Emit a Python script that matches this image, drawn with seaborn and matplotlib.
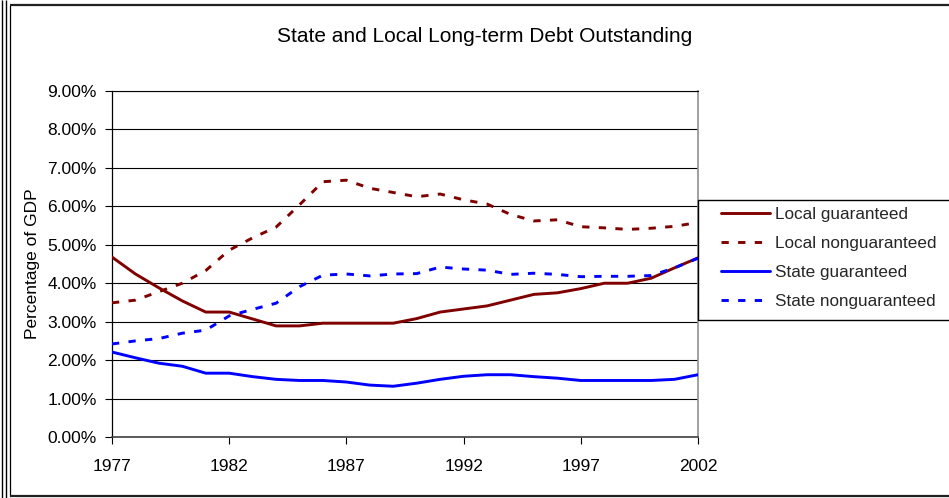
import matplotlib
matplotlib.use("Agg")
import matplotlib.pyplot as plt
from matplotlib.lines import Line2D
from matplotlib.patches import Rectangle
from matplotlib.ticker import FuncFormatter
import seaborn as sns
import pandas as pd

years = list(range(1977, 2003))
local_guaranteed = [4.68, 4.24, 3.88, 3.54, 3.25, 3.25, 3.07, 2.89, 2.89, 2.96, 2.96, 2.96, 2.96,
                    3.08, 3.25, 3.33, 3.41, 3.56, 3.71, 3.75, 3.86, 4.00, 4.00, 4.13, 4.40, 4.66]
local_nonguaranteed = [3.49, 3.56, 3.78, 4.00, 4.33, 4.86, 5.18, 5.46, 6.04, 6.64, 6.68, 6.47, 6.36,
                       6.25, 6.32, 6.17, 6.06, 5.79, 5.62, 5.65, 5.47, 5.44, 5.40, 5.43, 5.48, 5.58]
state_guaranteed = [2.21, 2.06, 1.92, 1.84, 1.66, 1.66, 1.57, 1.50, 1.47, 1.47, 1.43, 1.35, 1.32,
                    1.40, 1.50, 1.58, 1.62, 1.62, 1.57, 1.53, 1.47, 1.47, 1.47, 1.47, 1.50, 1.62]
state_nonguaranteed = [2.42, 2.50, 2.56, 2.70, 2.78, 3.15, 3.32, 3.48, 3.91, 4.21, 4.24, 4.19, 4.24,
                       4.25, 4.42, 4.37, 4.34, 4.23, 4.26, 4.23, 4.17, 4.18, 4.18, 4.20, 4.40, 4.65]
series_names = ["Local guaranteed", "Local nonguaranteed", "State guaranteed", "State nonguaranteed"]
y_ticks = [0, 1, 2, 3, 4, 5, 6, 7, 8, 9]
x_ticks = [1977, 1982, 1987, 1992, 1997, 2002]

rows = []
for name, vals in zip(series_names, [local_guaranteed, local_nonguaranteed, state_guaranteed, state_nonguaranteed]):
    for y, v in zip(years, vals):
        rows.append({"Year": y, "Value": v, "Series": name})
df = pd.DataFrame(rows)

sns.set_theme(style="white")
plt.rcParams['font.family'] = ['Liberation Sans', 'DejaVu Sans']

W, H = 949, 498
fig = plt.figure(figsize=(W / 100, H / 100), dpi=100)
ax = fig.add_axes([112 / W, 1 - 437 / H, (698 - 112) / W, (437 - 91) / H])

LW = 2.1
DASH = (2.5, 3.2)
palette = {"Local guaranteed": "#800000", "Local nonguaranteed": "#800000",
           "State guaranteed": "#0000FF", "State nonguaranteed": "#0000FF"}
dashes = {"Local guaranteed": "", "Local nonguaranteed": DASH,
          "State guaranteed": "", "State nonguaranteed": DASH}
sns.lineplot(data=df, x="Year", y="Value", hue="Series", style="Series", palette=palette,
             dashes=dashes, linewidth=LW, ax=ax, legend=False, zorder=3)

ax.set_xlim(1977, 2002)
ax.set_ylim(0, 9)
ax.set_yticks(y_ticks)
ax.set_xticks(x_ticks)
ax.yaxis.set_major_formatter(FuncFormatter(lambda v, p: f"{v:.2f}%"))
ax.grid(axis="y", color="black", linewidth=0.8, zorder=1)
ax.grid(axis="x", visible=False)
ax.tick_params(axis="both", which="major", length=5, width=0.8, color="black",
               labelsize=12.5, labelcolor="black", direction="out", left=True, bottom=True)
ax.tick_params(axis="y", pad=6)
ax.tick_params(axis="x", pad=11)
ax.set_xlabel("")
ax.set_ylabel("Percentage of GDP", fontsize=12.5, color="black", labelpad=5)

ax.spines["left"].set_color("black")
ax.spines["left"].set_linewidth(0.9)
ax.spines["bottom"].set_color("#404040")
ax.spines["bottom"].set_linewidth(1.2)
ax.spines["right"].set_color("#909090")
ax.spines["right"].set_linewidth(1.2)
ax.spines["top"].set_color("black")
ax.spines["top"].set_linewidth(0.8)

fig.text(484.5 / W, 1 - 37 / H, "State and Local Long-term Debt Outstanding",
         ha="center", va="center", fontsize=15, color="black")

# legend frame (extends past right edge like the reference)
fig.add_artist(Rectangle((698 / W, 1 - 320 / H), 300 / W, 120 / H, transform=fig.transFigure,
                         facecolor="white", edgecolor="black", lw=1.0, zorder=5))

handles = [Line2D([], [], color="#800000", lw=LW),
           Line2D([], [], color="#800000", lw=LW, dashes=DASH),
           Line2D([], [], color="#0000FF", lw=LW),
           Line2D([], [], color="#0000FF", lw=LW, dashes=DASH)]
leg = fig.legend(handles, series_names, loc="upper left",
                 bbox_to_anchor=(716 / W, 1 - 202 / H),
                 bbox_transform=fig.transFigure, frameon=False,
                 fontsize=12.3, handlelength=2.85, handletextpad=0.3, labelspacing=0.82,
                 borderpad=0.3, borderaxespad=0)
leg.set_zorder(6)

# outer frame lines
def px_line(x0, y0, x1, y1, lw, color="black"):
    fig.add_artist(Line2D([x0 / W, x1 / W], [1 - y0 / H, 1 - y1 / H], transform=fig.transFigure,
                          color=color, lw=lw, solid_capstyle="butt"))

px_line(2, 0, 2, H, 1.0)
px_line(5.5, 0, 5.5, H, 1.0)
px_line(10, 5.5, 10, 496, 0.9)
px_line(10, 5.5, W, 5.5, 1.6, "#202020")
px_line(10, 496, W, 496, 1.6, "#202020")

fig.savefig("out.png", dpi=100)
